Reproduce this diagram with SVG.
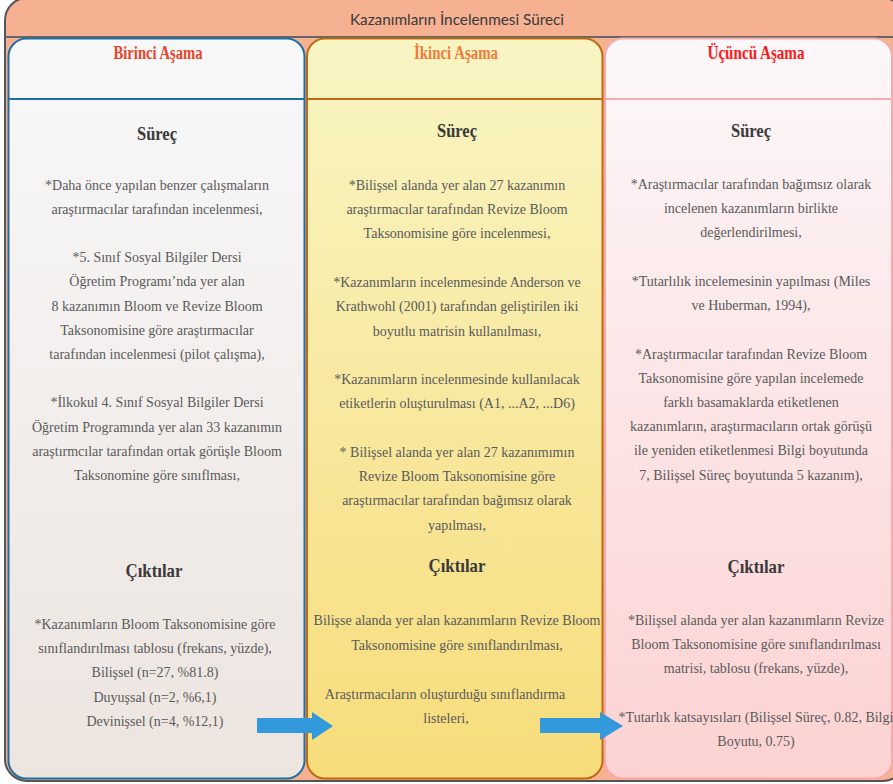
<svg xmlns="http://www.w3.org/2000/svg" width="893" height="784" viewBox="0 0 893 784">
<defs>
<linearGradient id="g1" x1="0" y1="0" x2="0" y2="1"><stop offset="0" stop-color="#f8f8f9"/><stop offset="1" stop-color="#ece4df"/></linearGradient>
<linearGradient id="g2" x1="0" y1="0" x2="0" y2="1"><stop offset="0" stop-color="#f8f5c4"/><stop offset="1" stop-color="#f7dc7a"/></linearGradient>
<linearGradient id="g3" x1="0" y1="0" x2="0" y2="1"><stop offset="0" stop-color="#fcf7f9"/><stop offset="1" stop-color="#fcd2d2"/></linearGradient>
<style>
.t{font-family:"Liberation Serif","Times New Roman",serif;font-size:14px;fill:#5a5a5a;text-anchor:middle}
.h{font-family:"Liberation Serif","Times New Roman",serif;font-size:19px;font-weight:bold;fill:#3a3a3a;text-anchor:middle}
.ph{font-family:"Liberation Serif","Times New Roman",serif;font-size:18px;font-weight:bold;text-anchor:middle}
.arrow{fill:#3399dd}
</style>
</defs>
<g id="frame">
<rect x="5" y="-2" width="900" height="783" rx="22" fill="#f6b193" stroke="#555" stroke-width="2"/>
<line x1="5" y1="37" x2="893" y2="37" stroke="#666" stroke-width="2"/>
<text x="457" y="25" text-anchor="middle" font-family="Lato,'Liberation Sans',sans-serif" font-size="15" fill="#3a3a3a" textLength="214" lengthAdjust="spacingAndGlyphs">Kazanımların İncelenmesi Süreci</text>
</g>
<g id="col1">
<rect x="8.5" y="38.5" width="296" height="740" rx="18" fill="url(#g1)" stroke="#1f6fa3" stroke-width="2"/>
<line x1="8.5" y1="99" x2="304.5" y2="99" stroke="#1f6fa3" stroke-width="2"/>
<text class="ph" x="158" y="59" fill="#e8442a" textLength="89" lengthAdjust="spacingAndGlyphs">Birinci Aşama</text>
<text class="h" x="157" y="140" textLength="40" lengthAdjust="spacingAndGlyphs">Süreç</text>
<text class="t" x="157" y="190">*Daha önce yapılan benzer çalışmaların</text>
<text class="t" x="157" y="214">araştırmacılar tarafından incelenmesi,</text>
<text class="t" x="157" y="262">*5. Sınıf Sosyal  Bilgiler Dersi</text>
<text class="t" x="157" y="286">Öğretim Programı’nda yer alan</text>
<text class="t" x="157" y="311">8 kazanımın Bloom ve Revize Bloom</text>
<text class="t" x="157" y="335">Taksonomisine göre araştırmacılar</text>
<text class="t" x="157" y="359">tarafından  incelenmesi (pilot çalışma),</text>
<text class="t" x="157" y="407">*İlkokul 4. Sınıf Sosyal Bilgiler Dersi</text>
<text class="t" x="157" y="432">Öğretim Programında yer alan 33 kazanımın</text>
<text class="t" x="157" y="456">araştırmcılar tarafından ortak görüşle Bloom</text>
<text class="t" x="157" y="480">Taksonomine göre sınıflması,</text>
<text class="h" x="154" y="577" textLength="57" lengthAdjust="spacingAndGlyphs">Çıktılar</text>
<text class="t" x="155" y="629">*Kazanımların Bloom Taksonomisine göre</text>
<text class="t" x="155" y="653">sınıflandırılması tablosu (frekans, yüzde),</text>
<text class="t" x="155" y="677">Bilişsel (n=27, %81.8)</text>
<text class="t" x="155" y="702">Duyuşsal (n=2, %6,1)</text>
<text class="t" x="155" y="726">Devinişsel (n=4, %12,1)</text>
</g>
<g id="col2">
<rect x="307" y="38.5" width="295.5" height="740" rx="18" fill="url(#g2)" stroke="#bf6a10" stroke-width="2"/>
<line x1="307" y1="99" x2="602.5" y2="99" stroke="#bf6a10" stroke-width="2"/>
<text class="ph" x="456" y="59" fill="#f27a3a" textLength="84" lengthAdjust="spacingAndGlyphs">İkinci Aşama</text>
<text class="h" x="457" y="137" textLength="40" lengthAdjust="spacingAndGlyphs">Süreç</text>
<text class="t" x="457" y="190">*Bilişsel alanda yer alan 27 kazanımın</text>
<text class="t" x="457" y="214">araştırmacılar tarafından Revize Bloom</text>
<text class="t" x="457" y="238">Taksonomisine göre incelenmesi,</text>
<text class="t" x="457" y="287">*Kazanımların incelenmesinde Anderson ve</text>
<text class="t" x="457" y="311">Krathwohl (2001) tarafından geliştirilen iki</text>
<text class="t" x="457" y="336">boyutlu matrisin kullanılması,</text>
<text class="t" x="457" y="384">*Kazanımların incelenmesinde kullanılacak</text>
<text class="t" x="457" y="408">etiketlerin oluşturulması (A1, ...A2, ...D6)</text>
<text class="t" x="457" y="457">* Bilişsel alanda yer alan 27 kazanımımın</text>
<text class="t" x="457" y="481">Revize Bloom Taksonomisine göre</text>
<text class="t" x="457" y="505">araştırmacılar tarafından bağımsız olarak</text>
<text class="t" x="457" y="530">yapılması,</text>
<text class="h" x="457" y="572" textLength="57" lengthAdjust="spacingAndGlyphs">Çıktılar</text>
<text class="t" x="457" y="625">Bilişse alanda yer alan kazanımların Revize Bloom</text>
<text class="t" x="457" y="650">Taksonomisine göre sınıflandırılması,</text>
<text class="t" x="445" y="699">Araştırmacıların oluşturduğu  sınıflandırma</text>
<text class="t" x="446" y="723">listeleri,</text>
</g>
<g id="col3">
<rect x="605" y="38.5" width="287" height="740" rx="18" fill="url(#g3)" stroke="#f8a9ab" stroke-width="2"/>
<line x1="605" y1="99" x2="892" y2="99" stroke="#f8a9ab" stroke-width="2"/>
<text class="ph" x="756" y="59" fill="#ff1a1a" textLength="97" lengthAdjust="spacingAndGlyphs">Üçüncü Aşama</text>
<text class="h" x="751" y="137" textLength="40" lengthAdjust="spacingAndGlyphs">Süreç</text>
<text class="t" x="751" y="189">*Araştırmacılar tarafından bağımsız olarak</text>
<text class="t" x="751" y="213">incelenen kazanımların birlikte</text>
<text class="t" x="751" y="237">değerlendirilmesi,</text>
<text class="t" x="751" y="286">*Tutarlılık incelemesinin yapılması (Miles</text>
<text class="t" x="751" y="310">ve Huberman, 1994),</text>
<text class="t" x="751" y="359">*Araştırmacılar tarafından Revize Bloom</text>
<text class="t" x="751" y="383">Taksonomisine göre yapılan incelemede</text>
<text class="t" x="751" y="407">farklı basamaklarda etiketlenen</text>
<text class="t" x="751" y="431">kazanımların, araştırmacıların ortak görüşü</text>
<text class="t" x="751" y="455">ile yeniden etiketlenmesi Bilgi  boyutunda</text>
<text class="t" x="751" y="480">7, Bilişsel Süreç boyutunda 5 kazanım),</text>
<text class="h" x="756" y="573" textLength="57" lengthAdjust="spacingAndGlyphs">Çıktılar</text>
<text class="t" x="756" y="625">*Bilişsel alanda yer alan kazanımların Revize</text>
<text class="t" x="756" y="649">Bloom Taksonomisine göre sınıflandırılması</text>
<text class="t" x="756" y="673">matrisi, tablosu (frekans, yüzde),</text>
<text class="t" x="756" y="722">*Tutarlık katsayısıları (Bilişsel Süreç, 0.82, Bilgi</text>
<text class="t" x="756" y="746">Boyutu, 0.75)</text>
</g>
<g id="connectors">
<polygon class="arrow" points="257,718 312,718 312,712 333,726 312,740 312,733 257,733"/>
<polygon class="arrow" points="540,718 600,718 600,712 623,726 600,740 600,733 540,733"/>
</g>
</svg>
